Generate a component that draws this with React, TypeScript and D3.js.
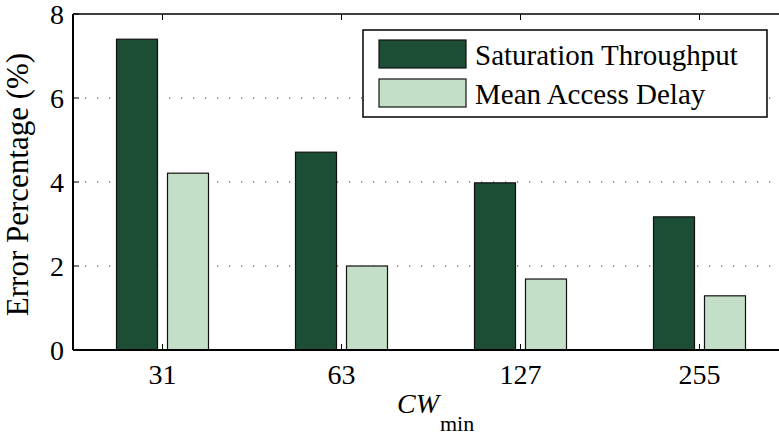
import React from "react";
import * as d3 from "d3";

const categories = ["31", "63", "127", "255"];
const seriesNames = ["Saturation Throughput", "Mean Access Delay"];
const saturationThroughput = [7.4, 4.71, 3.98, 3.17];
const meanAccessDelay = [4.21, 2.0, 1.69, 1.29];
const yTicks = [0, 2, 4, 6, 8];
const gridTicks = [2, 4, 6];
const colors = ["#1c4d35", "#c3dfc8"];

const W = 779;
const H = 436;
const M = { left: 73, top: 14, bottomY: 350 };
const FONT = "Liberation Serif";

export default function App() {
  // bar-plot style axis: categories at 1..n, limits padded by half a slot
  const x = d3.scaleLinear().domain([0.5, 4.5]).range([M.left, M.left + 4 * 179]);
  const y = d3.scaleLinear().domain([0, 8]).range([M.bottomY, M.top]);
  const right = x(4.5);
  const barW = 41;
  const offset = 25.5;
  const series = [saturationThroughput, meanAccessDelay];
  const tick = { fontFamily: FONT, fontSize: 28 };
  const label = { fontFamily: FONT, fontSize: 29 };

  return (
    <svg width={W} height={H} style={{ position: "absolute", left: 0, top: 0, background: "#fff" }}>
      {/* dotted grid */}
      {gridTicks.map((t) => (
        <line key={t} x1={M.left} x2={right} y1={y(t)} y2={y(t)} stroke="#333" strokeWidth={1.2}
          strokeDasharray="1.2 10.8" />
      ))}
      {/* bars */}
      {series.map((vals, si) =>
        vals.map((v, i) => {
          const cx = x(i + 1) + (si === 0 ? -offset : offset);
          return (
            <rect key={`${si}-${i}`} x={cx - barW / 2} y={y(v)} width={barW} height={y(0) - y(v)}
              fill={colors[si]} stroke="#111" strokeWidth={1.2} />
          );
        })
      )}
      {/* frame */}
      <line x1={M.left} x2={right} y1={M.top} y2={M.top} stroke="#000" strokeWidth={1.5} />
      <line x1={M.left} x2={right} y1={M.bottomY} y2={M.bottomY} stroke="#000" strokeWidth={2} />
      <line x1={M.left} x2={M.left} y1={M.top} y2={M.bottomY} stroke="#000" strokeWidth={2} />
      {/* y ticks */}
      {yTicks.map((t) => (
        <g key={t}>
          <line x1={M.left} x2={M.left + 6} y1={y(t)} y2={y(t)} stroke="#000" strokeWidth={1} />
          <text x={M.left - 9} y={y(t)} dy="0.34em" textAnchor="end" style={tick}>{t}</text>
        </g>
      ))}
      {/* x ticks */}
      {categories.map((c, i) => (
        <g key={c}>
          <line x1={x(i + 1)} x2={x(i + 1)} y1={M.bottomY} y2={M.bottomY - 6} stroke="#000" strokeWidth={1} />
          <line x1={x(i + 1)} x2={x(i + 1)} y1={M.top} y2={M.top + 6} stroke="#000" strokeWidth={1} />
          <text x={x(i + 1)} y={384} textAnchor="middle" style={tick}>{c}</text>
        </g>
      ))}
      {/* axis titles */}
      <text transform={`translate(28,184.5) rotate(-90)`} textAnchor="middle"
        style={{ fontFamily: FONT, fontSize: 31 }}>Error Percentage (%)</text>
      <text x={397} y={413} style={{ fontFamily: FONT, fontSize: 28, fontStyle: "italic" }}>CW</text>
      <text x={440} y={431} style={{ fontFamily: FONT, fontSize: 22 }}>min</text>
      {/* legend */}
      <rect x={363} y={30} width={404} height={87} fill="#fff" stroke="#000" strokeWidth={1.5} />
      {seriesNames.map((n, i) => (
        <g key={n}>
          <rect x={379} y={40 + i * 39} width={87} height={28} fill={colors[i]} stroke="#111" strokeWidth={1.2} />
          <text x={475} y={65 + i * 38.5} style={label}>{n}</text>
        </g>
      ))}
    </svg>
  );
}
